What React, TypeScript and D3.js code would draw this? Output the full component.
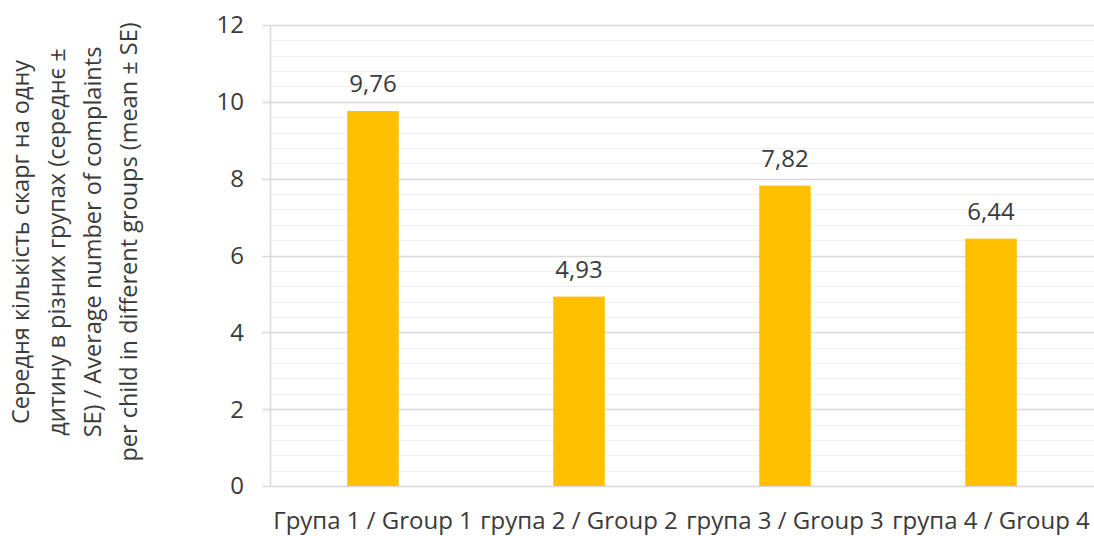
import { useEffect, useRef } from 'react';
import * as d3 from 'd3';

const groups = ['Група 1 / Group 1', 'група 2 / Group 2', 'група 3 / Group 3', 'група 4 / Group 4'];
const means = [9.76, 4.93, 7.82, 6.44];
const majorTicks = [0, 2, 4, 6, 8, 10, 12];
const titleLines = [
  'Середня кількість скарг на одну',
  'дитину в різних групах (середнє ±',
  'SE) / Average number of complaints',
  'per child in different groups (mean ± SE)',
];

export default function App() {
  const ref = useRef<SVGSVGElement>(null);

  useEffect(() => {
    const svg = d3.select(ref.current);
    svg.selectAll('*').remove();

    const W = 1094, H = 536;
    const left = 270, right = 1094, top = 25, bottom = 486;
    const font = '"Open Sans", sans-serif';
    const textColor = '#3a3a3a';

    const x = d3.scaleBand().domain(groups).range([left, right]).paddingInner(0.75).paddingOuter(0.375);
    const y = d3.scaleLinear().domain([0, 12]).range([bottom, top]);

    // minor gridlines
    const minor = d3.range(0, 12.001, 0.4).filter((v) => Math.abs(v / 2 - Math.round(v / 2)) > 1e-6);
    svg.append('g').selectAll('line').data(minor).enter().append('line')
      .attr('x1', left).attr('x2', right)
      .attr('y1', (d) => Math.round(y(d)) + 0.5).attr('y2', (d) => Math.round(y(d)) + 0.5)
      .attr('stroke', '#f0f0f0').attr('stroke-width', 1);

    // major gridlines + ticks
    svg.append('g').selectAll('line').data(majorTicks).enter().append('line')
      .attr('x1', left - 8).attr('x2', right)
      .attr('y1', (d) => Math.round(y(d)) + 0.5).attr('y2', (d) => Math.round(y(d)) + 0.5)
      .attr('stroke', '#d9d9d9').attr('stroke-width', 1.5);

    // vertical axis line
    svg.append('line')
      .attr('x1', left + 0.5).attr('x2', left + 0.5)
      .attr('y1', y(12)).attr('y2', y(0))
      .attr('stroke', '#d9d9d9').attr('stroke-width', 1.5);

    // y tick labels
    svg.append('g').selectAll('text').data(majorTicks).enter().append('text')
      .attr('x', 244).attr('y', (d) => y(d)).attr('dy', '0.35em')
      .attr('text-anchor', 'end')
      .attr('font-family', font).attr('font-size', 24).attr('fill', textColor)
      .text((d) => String(d));

    // bars
    svg.append('g').selectAll('rect').data(means).enter().append('rect')
      .attr('x', (d, i) => x(groups[i]) as number)
      .attr('width', x.bandwidth())
      .attr('y', (d) => y(d))
      .attr('height', (d) => y(0) - y(d))
      .attr('fill', '#ffc000');

    // value labels
    const fmt = d3.format('.2f');
    svg.append('g').selectAll('text').data(means).enter().append('text')
      .attr('x', (d, i) => (x(groups[i]) as number) + x.bandwidth() / 2)
      .attr('y', (d) => y(d) - 19)
      .attr('text-anchor', 'middle')
      .attr('font-family', font).attr('font-size', 24).attr('fill', textColor)
      .text((d) => fmt(d).replace('.', ','));

    // x labels
    svg.append('g').selectAll('text').data(groups).enter().append('text')
      .attr('x', (d) => (x(d) as number) + x.bandwidth() / 2)
      .attr('y', 529)
      .attr('text-anchor', 'middle')
      .attr('font-family', font).attr('font-size', 24).attr('fill', textColor)
      .text((d) => d);

    // y axis title
    const t = svg.append('text')
      .attr('transform', 'translate(0,242) rotate(-90)')
      .attr('text-anchor', 'middle')
      .attr('font-family', font).attr('font-size', 23.5).attr('fill', textColor);
    titleLines.forEach((line, i) => {
      t.append('tspan').attr('x', 0).attr('y', 29 + i * 36).text(line);
    });

    svg.attr('width', W).attr('height', H);
  }, []);

  return (
    <svg ref={ref} width={1094} height={536} style={{ position: 'absolute', left: 0, top: 0, background: '#fff' }} />
  );
}
